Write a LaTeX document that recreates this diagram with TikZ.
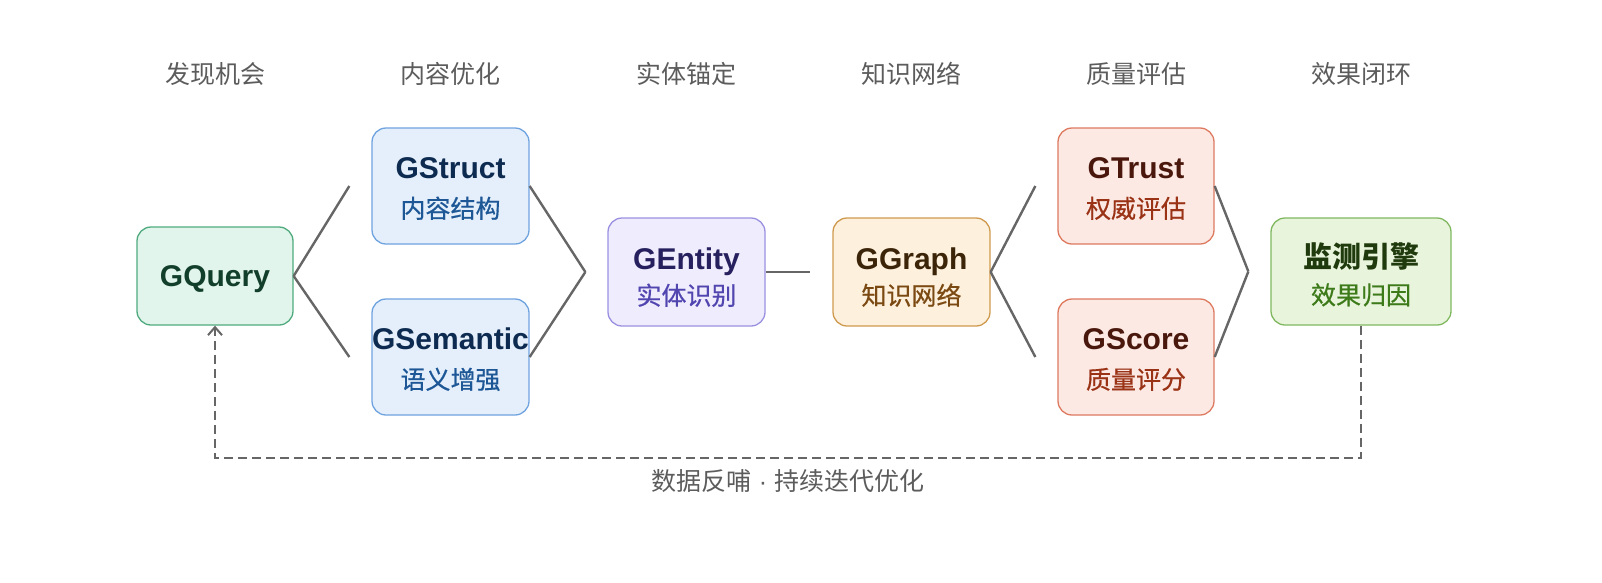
\documentclass[tikz,border=0pt]{standalone}
\usepackage{fontspec}
\usetikzlibrary{calc,arrows.meta}
\newfontfamily\cjk{Noto Sans CJK SC}
\newfontfamily\cjkm{Noto Sans CJK SC}[FakeBold=0.6]
\newfontfamily\lat{Liberation Sans}
\definecolor{lblgray}{HTML}{5C5C5C}
\definecolor{conn}{HTML}{666666}
\definecolor{qfill}{HTML}{E2F5EC}\definecolor{qdraw}{HTML}{4FAA7E}\definecolor{qtext}{HTML}{123F2C}
\definecolor{bfill}{HTML}{E5EFFB}\definecolor{bdraw}{HTML}{6FA3E0}\definecolor{btitle}{HTML}{0D2B50}\definecolor{bsub}{HTML}{1D5796}
\definecolor{pfill}{HTML}{EEECFD}\definecolor{pdraw}{HTML}{9A90E0}\definecolor{ptitle}{HTML}{27205E}\definecolor{psub}{HTML}{5145B0}
\definecolor{ofill}{HTML}{FDF0DD}\definecolor{odraw}{HTML}{CF9A4E}\definecolor{otitle}{HTML}{3B2408}\definecolor{osub}{HTML}{7B4A12}
\definecolor{rfill}{HTML}{FCE9E3}\definecolor{rdraw}{HTML}{DD7A60}\definecolor{rtitle}{HTML}{4A170C}\definecolor{rsub}{HTML}{9A3216}
\definecolor{gfill}{HTML}{E9F4DC}\definecolor{gdraw}{HTML}{80B860}\definecolor{gtitle}{HTML}{1F3A0C}\definecolor{gsub}{HTML}{3C7A1A}
\tikzset{
  box/.style={draw, line width=1.3pt, rounded corners=14pt, inner sep=0pt},
  ttl/.style={font=\lat\bfseries\fontsize{30}{30}\selectfont, inner sep=0pt, text height=0.72em, text depth=0pt},
  cjkttl/.style={font=\cjk\bfseries\fontsize{29}{29}\selectfont, inner sep=0pt, text height=0.84em, text depth=0.08em},
  sub/.style={font=\cjkm\fontsize{25}{25}\selectfont, inner sep=0pt, text height=0.84em, text depth=0.08em},
  stage/.style={font=\cjk\fontsize{25}{25}\selectfont, text=lblgray, inner sep=0pt, text height=0.84em, text depth=0.08em},
  link/.style={draw=conn, line width=2.4pt},
  fb/.style={draw=conn, line width=2pt, dash pattern=on 9pt off 5pt, -{Straight Barb[length=8pt,width=14pt,line width=2pt]}}
}
\begin{document}
\begin{tikzpicture}[x=1pt,y=-1pt]
\useasboundingbox (0,0) rectangle (1602,582);
% stage labels
\node[stage] (s1) at (215,80) {发现机会};
\node[stage] (s2) at (450.5,80) {内容优化};
\node[stage] (s3) at (686.5,80) {实体锚定};
\node[stage] (s4) at (911.5,80) {知识网络};
\node[stage] (s5) at (1136,80) {质量评估};
\node[stage] (s6) at (1361,80) {效果闭环};
% boxes
\node[box, fill=qfill, draw=qdraw, minimum width=156pt, minimum height=98pt] (gquery) at (215,276) {};
\node[box, fill=bfill, draw=bdraw, minimum width=157pt, minimum height=116pt] (gstruct) at (450.5,186) {};
\node[box, fill=bfill, draw=bdraw, minimum width=157pt, minimum height=116pt] (gsem) at (450.5,357) {};
\node[box, fill=pfill, draw=pdraw, minimum width=157pt, minimum height=108pt] (gentity) at (686.5,272) {};
\node[box, fill=ofill, draw=odraw, minimum width=157pt, minimum height=108pt] (ggraph) at (911.5,272) {};
\node[box, fill=rfill, draw=rdraw, minimum width=156pt, minimum height=116pt] (gtrust) at (1136,186) {};
\node[box, fill=rfill, draw=rdraw, minimum width=156pt, minimum height=116pt] (gscore) at (1136,357) {};
\node[box, fill=gfill, draw=gdraw, minimum width=180pt, minimum height=107pt] (mon) at (1361,271.5) {};
% texts
\node[ttl, text=qtext] (tq) at ($(gquery.center)+(0,7)$) {GQuery};
\node[ttl, text=btitle] (t1) at ($(gstruct.center)+(0,-11)$) {GStruct};
\node[sub, text=bsub] (u1) at ($(gstruct.center)+(0,28)$) {内容结构};
\node[ttl, text=btitle] (t2) at ($(gsem.center)+(0,-11)$) {GSemantic};
\node[sub, text=bsub] (u2) at ($(gsem.center)+(0,28)$) {语义增强};
\node[ttl, text=ptitle] (t3) at ($(gentity.center)+(0,-6)$) {GEntity};
\node[sub, text=psub] (u3) at ($(gentity.center)+(0,29)$) {实体识别};
\node[ttl, text=otitle] (t4) at ($(ggraph.center)+(0,-6)$) {GGraph};
\node[sub, text=osub] (u4) at ($(ggraph.center)+(0,29)$) {知识网络};
\node[ttl, text=rtitle] (t5) at ($(gtrust.center)+(0,-11)$) {GTrust};
\node[sub, text=rsub] (u5) at ($(gtrust.center)+(0,28)$) {权威评估};
\node[ttl, text=rtitle] (t6) at ($(gscore.center)+(0,-11)$) {GScore};
\node[sub, text=rsub] (u6) at ($(gscore.center)+(0,28)$) {质量评分};
\node[cjkttl, text=gtitle] (t7) at ($(mon.center)+(0,-8)$) {监测引擎};
\node[sub, text=gsub] (u7) at ($(mon.center)+(0,29)$) {效果归因};
% connectors
\draw[link] (gquery.east) -- ($(gstruct.west)+(-22,0)$);
\draw[link] (gquery.east) -- ($(gsem.west)+(-22,0)$);
\draw[link] (gstruct.east) -- ($(gentity.west)+(-22,0)$);
\draw[link] (gsem.east) -- ($(gentity.west)+(-22,0)$);
\draw[link] (gentity.east) -- ($(ggraph.west)+(-22,0)$);
\draw[link] (ggraph.east) -- ($(gtrust.west)+(-22,0)$);
\draw[link] (ggraph.east) -- ($(gscore.west)+(-22,0)$);
\draw[link] (gtrust.east) -- ($(mon.west)+(-22,0)$);
\draw[link] (gscore.east) -- ($(mon.west)+(-22,0)$);
% feedback loop
\coordinate (fbr) at ($(mon.south)+(0,132)$);
\draw[fb] (mon.south) -- (fbr) -| (gquery.south);
\node[stage] (fbl) at (788,487) {数据反哺{\lat\ ·\ }持续迭代优化};
\end{tikzpicture}
\end{document}
